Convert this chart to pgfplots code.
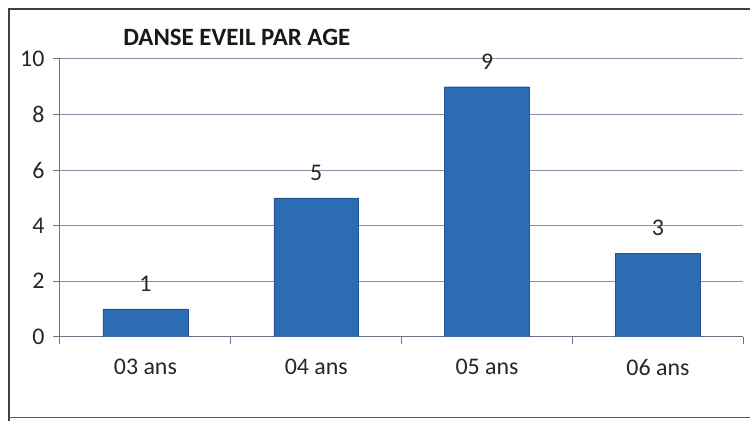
\documentclass[border=0pt]{standalone}
\usepackage{pgfplots}
\pgfplotsset{compat=1.18}
\usepackage{fontspec}
\setmainfont{Carlito}
\definecolor{barblue}{HTML}{2B6CB4}
\definecolor{gridc}{HTML}{8E8EA6}
\begin{document}
\begin{tikzpicture}[x=1bp,y=1bp]
\path (0,0) rectangle (751,421);
\draw[black!75, line width=1.3bp] (9,0) -- (9,412) -- (751,412);
\draw[black!65, line width=1bp] (9,3) -- (751,3);
\node[font=\fontsize{25}{25}\selectfont\bfseries, text=black!90] at (237,384) {DANSE EVEIL PAR AGE};
\begin{axis}[
  at={(60bp,84bp)}, anchor=south west, scale only axis,
  width=684bp, height=278bp,
  xmin=-0.5, xmax=3.5, ymin=0, ymax=10,
  axis x line*=bottom, axis y line*=left,
  axis line style={gridc!80!black, line width=1bp, -},
  ytick={0,2,4,6,8,10},
  ymajorgrids, grid style={gridc, line width=1bp},
  xtick={-0.5,0.5,1.5,2.5,3.5}, xticklabels={},
  extra x ticks={0,1,2,3},
  extra x tick labels={03 ans,04 ans,05 ans,06 ans},
  extra x tick style={major tick length=0pt, grid=none, xticklabel style={yshift=-19bp}},
  tick align=outside, major tick length=7bp,
  tick style={gridc!80!black, line width=1bp},
  tick label style={font=\fontsize{24}{24}\selectfont, text=black!85},
  yticklabel style={xshift=-5bp},
  /pgf/number format/assume math mode=true,
  ybar, bar width=85bp,
  nodes near coords,
  nodes near coords style={font=\fontsize{24}{24}\selectfont, text=black!85, yshift=14bp},
]
\addplot[fill=barblue, draw=barblue!80!black] coordinates {(0,1) (1,5) (2,9) (3,3)};
\end{axis}
\end{tikzpicture}
\end{document}
